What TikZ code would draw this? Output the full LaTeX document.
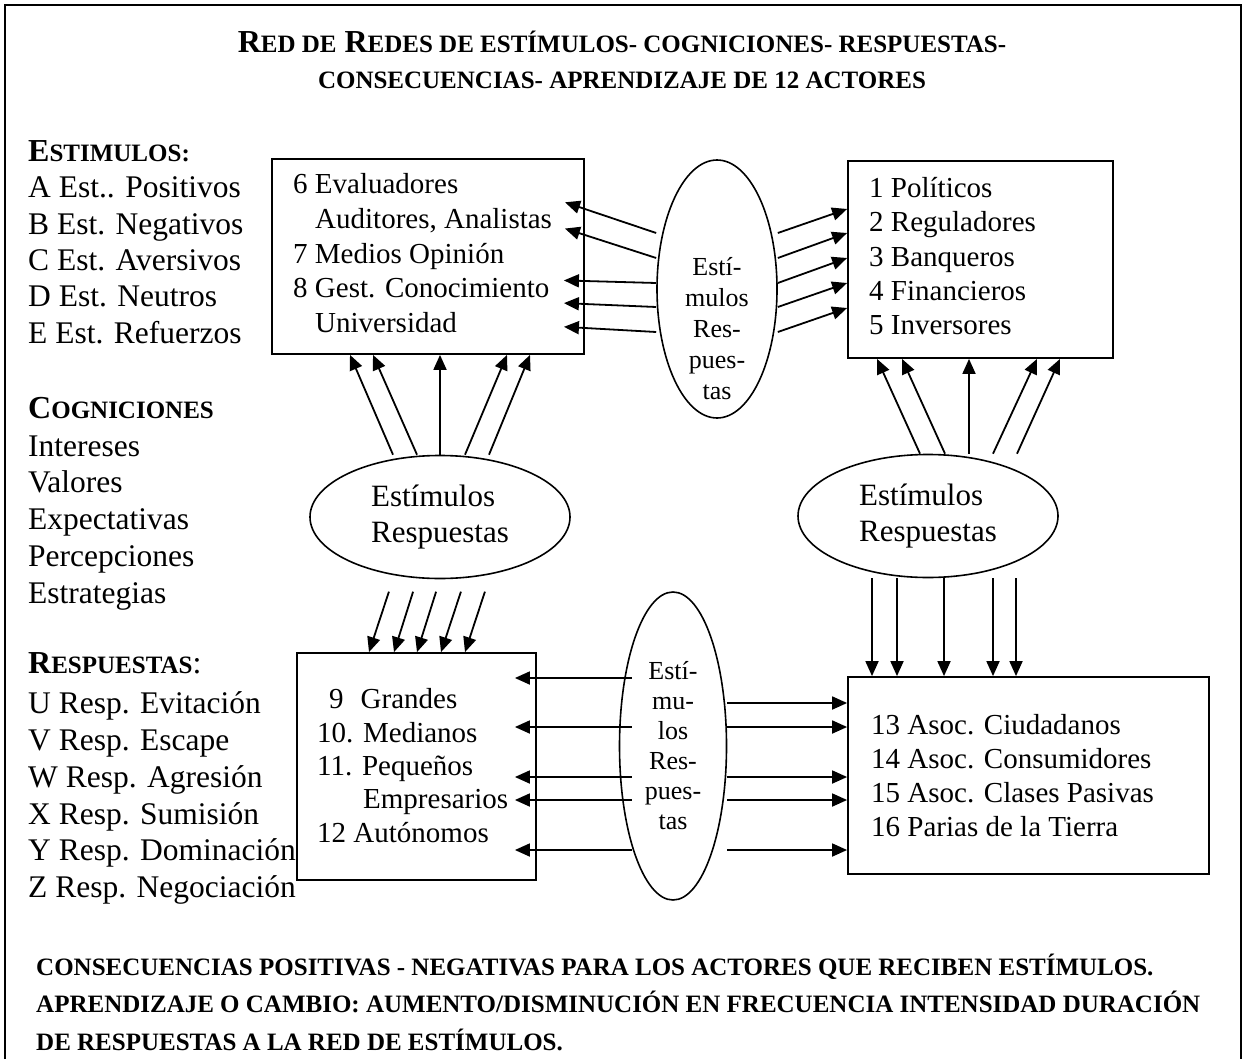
\documentclass[tikz,border=0pt]{standalone}
\usepackage{fontspec}
\setmainfont{Liberation Serif}
\usetikzlibrary{shapes.geometric,arrows.meta,positioning}
\newcommand{\petit}[1]{{\fontsize{25}{30}\selectfont #1}}

\begin{document}
\begin{tikzpicture}[x=1pt, y=-1pt,
	txt/.style = {anchor=base west, inner sep=0, font=\fontsize{31.5}{37}\selectfont},
	member/.style = {anchor=base west, inner sep=0, font=\fontsize{29}{35}\selectfont},
	head/.style = {anchor=base west, inner sep=0, font=\bfseries\fontsize{32}{38}\selectfont},
	group/.style = {draw, line width=1.8pt, inner sep=0},
	bubble/.style = {draw, ellipse, line width=1.6pt, inner sep=0},
	arr/.style = {line width=1.8pt, -{Triangle[length=15pt, width=13pt]}}]
	\useasboundingbox (0,0) rectangle (1246,1059);
	\draw[line width=1.8pt] (5,1059) -- (5,5) -- (1241,5) -- (1241,1059);

	\node[head, anchor=base] (title1) at (622,53) {R\petit{ED DE} R\petit{EDES DE ESTÍMULOS- COGNICIONES- RESPUESTAS-}};
	\node[head, anchor=base] (title2) at (622,89) {\petit{CONSECUENCIAS- APRENDIZAJE DE 12 ACTORES}};

	\node[head] (est) at (28,162) {E\petit{STIMULOS:}};
	\node[txt] (A) at (28,198) {A Est.. Positivos};
	\node[txt] (B) at (28,234) {B Est. Negativos};
	\node[txt] (C) at (28,270) {C Est. Aversivos};
	\node[txt] (D) at (28,306) {D Est. Neutros};
	\node[txt] (E) at (28,343) {E Est. Refuerzos};
	\node[head] (cog) at (28,418) {C\petit{OGNICIONES}};
	\node[txt] (int) at (28,456) {Intereses};
	\node[txt] (val) at (28,492) {Valores};
	\node[txt] (exp) at (28,529) {Expectativas};
	\node[txt] (per) at (28,566) {Percepciones};
	\node[txt] (str) at (28,603) {Estrategias};
	\node[head] (resp) at (28,673) {R\petit{ESPUESTAS}{\mdseries:}};
	\node[txt] (U) at (28,713) {U Resp. Evitación};
	\node[txt] (V) at (28,750) {V Resp. Escape};
	\node[txt] (W) at (28,787) {W Resp. Agresión};
	\node[txt] (X) at (28,824) {X Resp. Sumisión};
	\node[txt] (Y) at (28,860) {Y Resp. Dominación};
	\node[txt] (Z) at (28,897) {Z Resp. Negociación};

	\node[group, minimum width=312, minimum height=195] (box6) at (428,256.5) {};
	\node[group, minimum width=265, minimum height=197] (box1) at (980.5,259.5) {};
	\node[group, minimum width=239, minimum height=227] (box9) at (416.5,766.5) {};
	\node[group, minimum width=361, minimum height=197] (box13) at (1028.5,775.5) {};

	\node[member] (6) at (293,194) {6 Evaluadores};
	\node[member] (6b) at (315,229) {Auditores, Analistas};
	\node[member] (7) at (293,263) {7 Medios Opinión};
	\node[member] (8) at (293,297) {8 Gest. Conocimiento};
	\node[member] (8b) at (315,332) {Universidad};
	\node[member] (1) at (869,198) {1 Políticos};
	\node[member] (2) at (869,232) {2 Reguladores};
	\node[member] (3) at (869,266.5) {3 Banqueros};
	\node[member] (4) at (869,300.5) {4 Financieros};
	\node[member] (5) at (869,334.5) {5 Inversores};
	\node[member] (9) at (329,708) {9\hspace{17pt}Grandes};
	\node[member] (10) at (317,742) {10. Medianos};
	\node[member] (11) at (317,775) {11. Pequeños};
	\node[member] (11b) at (363,808) {Empresarios};
	\node[member] (12) at (317,842) {12 Autónomos};
	\node[member] (13) at (871,734) {13 Asoc. Ciudadanos};
	\node[member] (14) at (871,768) {14 Asoc. Consumidores};
	\node[member] (15) at (871,802) {15 Asoc. Clases Pasivas};
	\node[member] (16) at (871,836) {16 Parias de la Tierra};

	\node[bubble, minimum width=120, minimum height=258] (er-top) at (717,289) {};
	\node[member, anchor=center, align=center, font=\fontsize{26}{31}\selectfont] (er-top-t) at (717,329) {Estí-\\mulos\\Res-\\pues-\\tas};
	\node[bubble, minimum width=260, minimum height=123, align=left, font=\fontsize{31}{36}\selectfont] (er-left) at (440,517) {Estímulos\\Respuestas};
	\node[bubble, minimum width=260, minimum height=123, align=left, font=\fontsize{31}{36}\selectfont] (er-right) at (928,516) {Estímulos\\Respuestas};
	\node[bubble, minimum width=107, minimum height=308, align=center, font=\fontsize{26}{30}\selectfont] (er-bot) at (673,746) {Estí-\\mu-\\los\\Res-\\pues-\\tas};

	\draw[arr, shorten >=-21pt] (er-top.west |- 0,233) -- (box6.east |- 0,209);
	\draw[arr, shorten >=-21pt] (er-top.west |- 0,258) -- (box6.east |- 0,235);
	\draw[arr, shorten >=-21pt] (er-top.west |- 0,283) -- (box6.east |- 0,281);
	\draw[arr, shorten >=-21pt] (er-top.west |- 0,307) -- (box6.east |- 0,304);
	\draw[arr, shorten >=-21pt] (er-top.west |- 0,332) -- (box6.east |- 0,328);
	\draw[arr] (er-top.east |- 0,233) -- (box1.west |- 0,209);
	\draw[arr] (er-top.east |- 0,258) -- (box1.west |- 0,233);
	\draw[arr] (er-top.east |- 0,283) -- (box1.west |- 0,258);
	\draw[arr] (er-top.east |- 0,307) -- (box1.west |- 0,283);
	\draw[arr] (er-top.east |- 0,332) -- (box1.west |- 0,308);

	\draw[arr] (er-left.north -| 393,0) -- (box6.south -| 350,0);
	\draw[arr] (er-left.north -| 417,0) -- (box6.south -| 373,0);
	\draw[arr] (er-left.north -| 440,0) -- (box6.south -| 440,0);
	\draw[arr] (er-left.north -| 465,0) -- (box6.south -| 507,0);
	\draw[arr] (er-left.north -| 489,0) -- (box6.south -| 530,0);
	\draw[arr] (er-right.north -| 920,0) -- (box1.south -| 877,0);
	\draw[arr] (er-right.north -| 945,0) -- (box1.south -| 902,0);
	\draw[arr] (er-right.north -| 969,0) -- (box1.south -| 969,0);
	\draw[arr] (er-right.north -| 993,0) -- (box1.south -| 1037,0);
	\draw[arr] (er-right.north -| 1017,0) -- (box1.south -| 1060,0);

	\draw[arr, shorten <=13pt] (er-left.south -| 393,0) -- (box9.north -| 369,0);
	\draw[arr, shorten <=13pt] (er-left.south -| 417,0) -- (box9.north -| 394,0);
	\draw[arr, shorten <=13pt] (er-left.south -| 440,0) -- (box9.north -| 417,0);
	\draw[arr, shorten <=13pt] (er-left.south -| 465,0) -- (box9.north -| 441,0);
	\draw[arr, shorten <=13pt] (er-left.south -| 489,0) -- (box9.north -| 465,0);
	\draw[arr] (er-right.south -| 872,0) -- (box13.north -| 872,0);
	\draw[arr] (er-right.south -| 897,0) -- (box13.north -| 897,0);
	\draw[arr] (er-right.south -| 944,0) -- (box13.north -| 944,0);
	\draw[arr] (er-right.south -| 993,0) -- (box13.north -| 993,0);
	\draw[arr] (er-right.south -| 1016,0) -- (box13.north -| 1016,0);

	\draw[arr, shorten <=-13pt, shorten >=-22pt] (er-bot.west |- 0,678) -- (box9.east |- 0,678);
	\draw[arr, shorten <=-13pt, shorten >=-22pt] (er-bot.west |- 0,727) -- (box9.east |- 0,727);
	\draw[arr, shorten <=-13pt, shorten >=-22pt] (er-bot.west |- 0,777) -- (box9.east |- 0,777);
	\draw[arr, shorten <=-13pt, shorten >=-22pt] (er-bot.west |- 0,800) -- (box9.east |- 0,800);
	\draw[arr, shorten <=-13pt, shorten >=-22pt] (er-bot.west |- 0,850) -- (box9.east |- 0,850);
	\draw[arr] (er-bot.east |- 0,703) -- (box13.west |- 0,703);
	\draw[arr] (er-bot.east |- 0,727) -- (box13.west |- 0,727);
	\draw[arr] (er-bot.east |- 0,777) -- (box13.west |- 0,777);
	\draw[arr] (er-bot.east |- 0,800) -- (box13.west |- 0,800);
	\draw[arr] (er-bot.east |- 0,850) -- (box13.west |- 0,850);

	\node[head] (cons) at (36,975) {\petit{CONSECUENCIAS POSITIVAS - NEGATIVAS PARA LOS ACTORES QUE RECIBEN ESTÍMULOS.}};
	\node[head] (apr) at (36,1012) {\petit{APRENDIZAJE O CAMBIO: AUMENTO/DISMINUCIÓN EN FRECUENCIA INTENSIDAD DURACIÓN}};
	\node[head] (red) at (36,1050) {\petit{DE RESPUESTAS A LA RED DE ESTÍMULOS.}};
\end{tikzpicture}
\end{document}
